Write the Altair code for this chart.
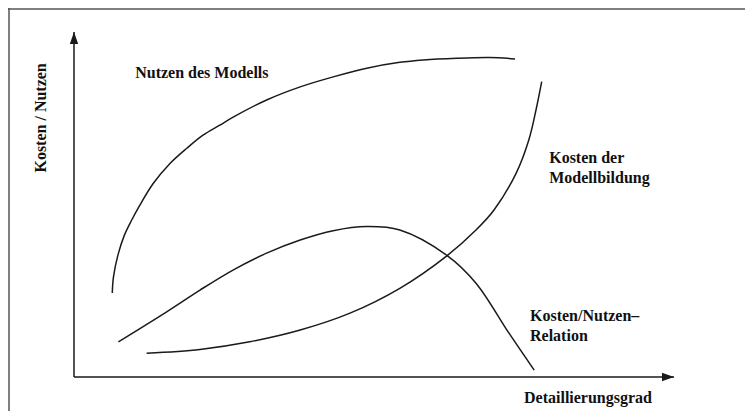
import altair as alt
import pandas as pd

# Conceptual chart: x = Detaillierungsgrad (0..100), y = Kosten / Nutzen (0..100)
nutzen_x = [6.38, 6.58, 7.33, 8.42, 9.62, 11.0, 13.2, 16.0, 18.8, 21.5, 24.3, 26.6, 32.1,
            37.7, 43.2, 48.8, 54.3, 58.2, 63.8, 69.3, 73.5]
nutzen_y = [24.35, 29.0, 35.4, 41.2, 45.5, 49.9, 56.1, 61.9, 66.3, 70.1, 73.0, 75.4, 80.3,
            84.1, 87.0, 89.5, 91.2, 91.9, 92.4, 92.6, 92.2]

kosten_x = [12.1, 21.0, 29.3, 37.7, 46.0, 54.3, 62.2, 67.0, 70.0, 73.7, 75.8, 77.0, 77.95]
kosten_y = [6.9, 8.0, 10.2, 13.6, 18.5, 25.7, 35.2, 42.6, 48.4, 59.1, 68.7, 77.4, 85.6]

relation_x = [7.4, 15.45, 21.0, 26.5, 32.1, 37.7, 43.2, 48.8, 54.3, 62.2, 67.0, 72.5, 76.7]
relation_y = [10.2, 18.9, 25.2, 31.0, 35.9, 39.7, 42.4, 43.6, 42.6, 35.2, 27.2, 12.7, 2.0]

label_text = ["Nutzen des Modells", "Kosten der", "Modellbildung",
              "Kosten/Nutzen\u2013", "Relation", "Detaillierungsgrad"]
label_x = [10.2, 79.2, 79.2, 76.0, 76.0, 75.0]
label_y = [86.8, 61.9, 56.1, 16.3, 10.5, -7.6]

ylabel_text = ["Kosten / Nutzen"]
ylabel_x = [-5.5]
ylabel_y = [75.1]

axis_end_x = [100, 0]
axis_end_y = [0, 100]

rows = []
for name, xs, ys in [("Nutzen", nutzen_x, nutzen_y),
                     ("Kosten", kosten_x, kosten_y),
                     ("Relation", relation_x, relation_y)]:
    for i, (a, b) in enumerate(zip(xs, ys)):
        rows.append({"series": name, "x": a, "y": b, "i": i})
curves = pd.DataFrame(rows)

labels = pd.DataFrame({"text": label_text, "x": label_x, "y": label_y})
ylab = pd.DataFrame({"text": ylabel_text, "x": ylabel_x, "y": ylabel_y})
axes = pd.DataFrame({"x": [0, 0], "y": [0, 0], "x2": axis_end_x, "y2": axis_end_y,
                     "dir": ["h", "v"]})

W, H = 737, 403
xs = alt.Scale(domain=[0, 100], range=[66, 666])
ys = alt.Scale(domain=[0, 100], range=[369, 24])
X = lambda f="x": alt.X(f"{f}:Q", scale=xs, axis=None)
Y = lambda f="y": alt.Y(f"{f}:Q", scale=ys, axis=None)

INK = "#1a1a1a"
FONT = "Liberation Serif"

frame_left = alt.Chart(pd.DataFrame({"a": [0]})).mark_rule(
    color="#555", strokeWidth=1.5).encode(
    x=alt.value(1), y=alt.value(0), y2=alt.value(H))
frame_top = alt.Chart(pd.DataFrame({"a": [0]})).mark_rule(
    color="#555", strokeWidth=1.5).encode(
    y=alt.value(1), x=alt.value(0), x2=alt.value(W))

axis_lines = alt.Chart(axes).mark_rule(color=INK, strokeWidth=1.5).encode(
    x=X("x"), y=Y("y"), x2="x2:Q", y2="y2:Q")

arrow_h = alt.Chart(axes[axes.dir == "h"]).mark_point(
    shape="M0,0L-2,-0.7L-2,0.7Z", filled=True, size=144, color=INK, opacity=1,
    strokeWidth=0).encode(x=X("x2"), y=Y("y2"))
arrow_v = alt.Chart(axes[axes.dir == "v"]).mark_point(
    shape="M0,0L-0.7,2L0.7,2Z", filled=True, size=144, color=INK, opacity=1,
    strokeWidth=0).encode(x=X("x2"), y=Y("y2"))

lines = alt.Chart(curves).mark_line(
    color=INK, strokeWidth=1.5, interpolate="catmull-rom").encode(
    x=X(), y=Y(), detail="series:N", order="i:Q")

texts = alt.Chart(labels).mark_text(
    align="left", baseline="alphabetic", font=FONT, fontWeight="bold",
    fontSize=16, color="#111").encode(x=X(), y=Y(), text="text:N")

ytext = alt.Chart(ylab).mark_text(
    align="center", baseline="middle", font=FONT, fontWeight="bold",
    fontSize=16, color="#111", angle=270).encode(x=X(), y=Y(), text="text:N")

chart = alt.layer(frame_left, frame_top, axis_lines, lines, arrow_h, arrow_v,
                  texts, ytext).properties(
    width=W, height=H, padding=0,
    autosize=alt.AutoSizeParams(type="none"),
    background="white",
).configure_view(stroke=None)

chart.save("out.html", embed_options={"renderer": "svg", "actions": False})
